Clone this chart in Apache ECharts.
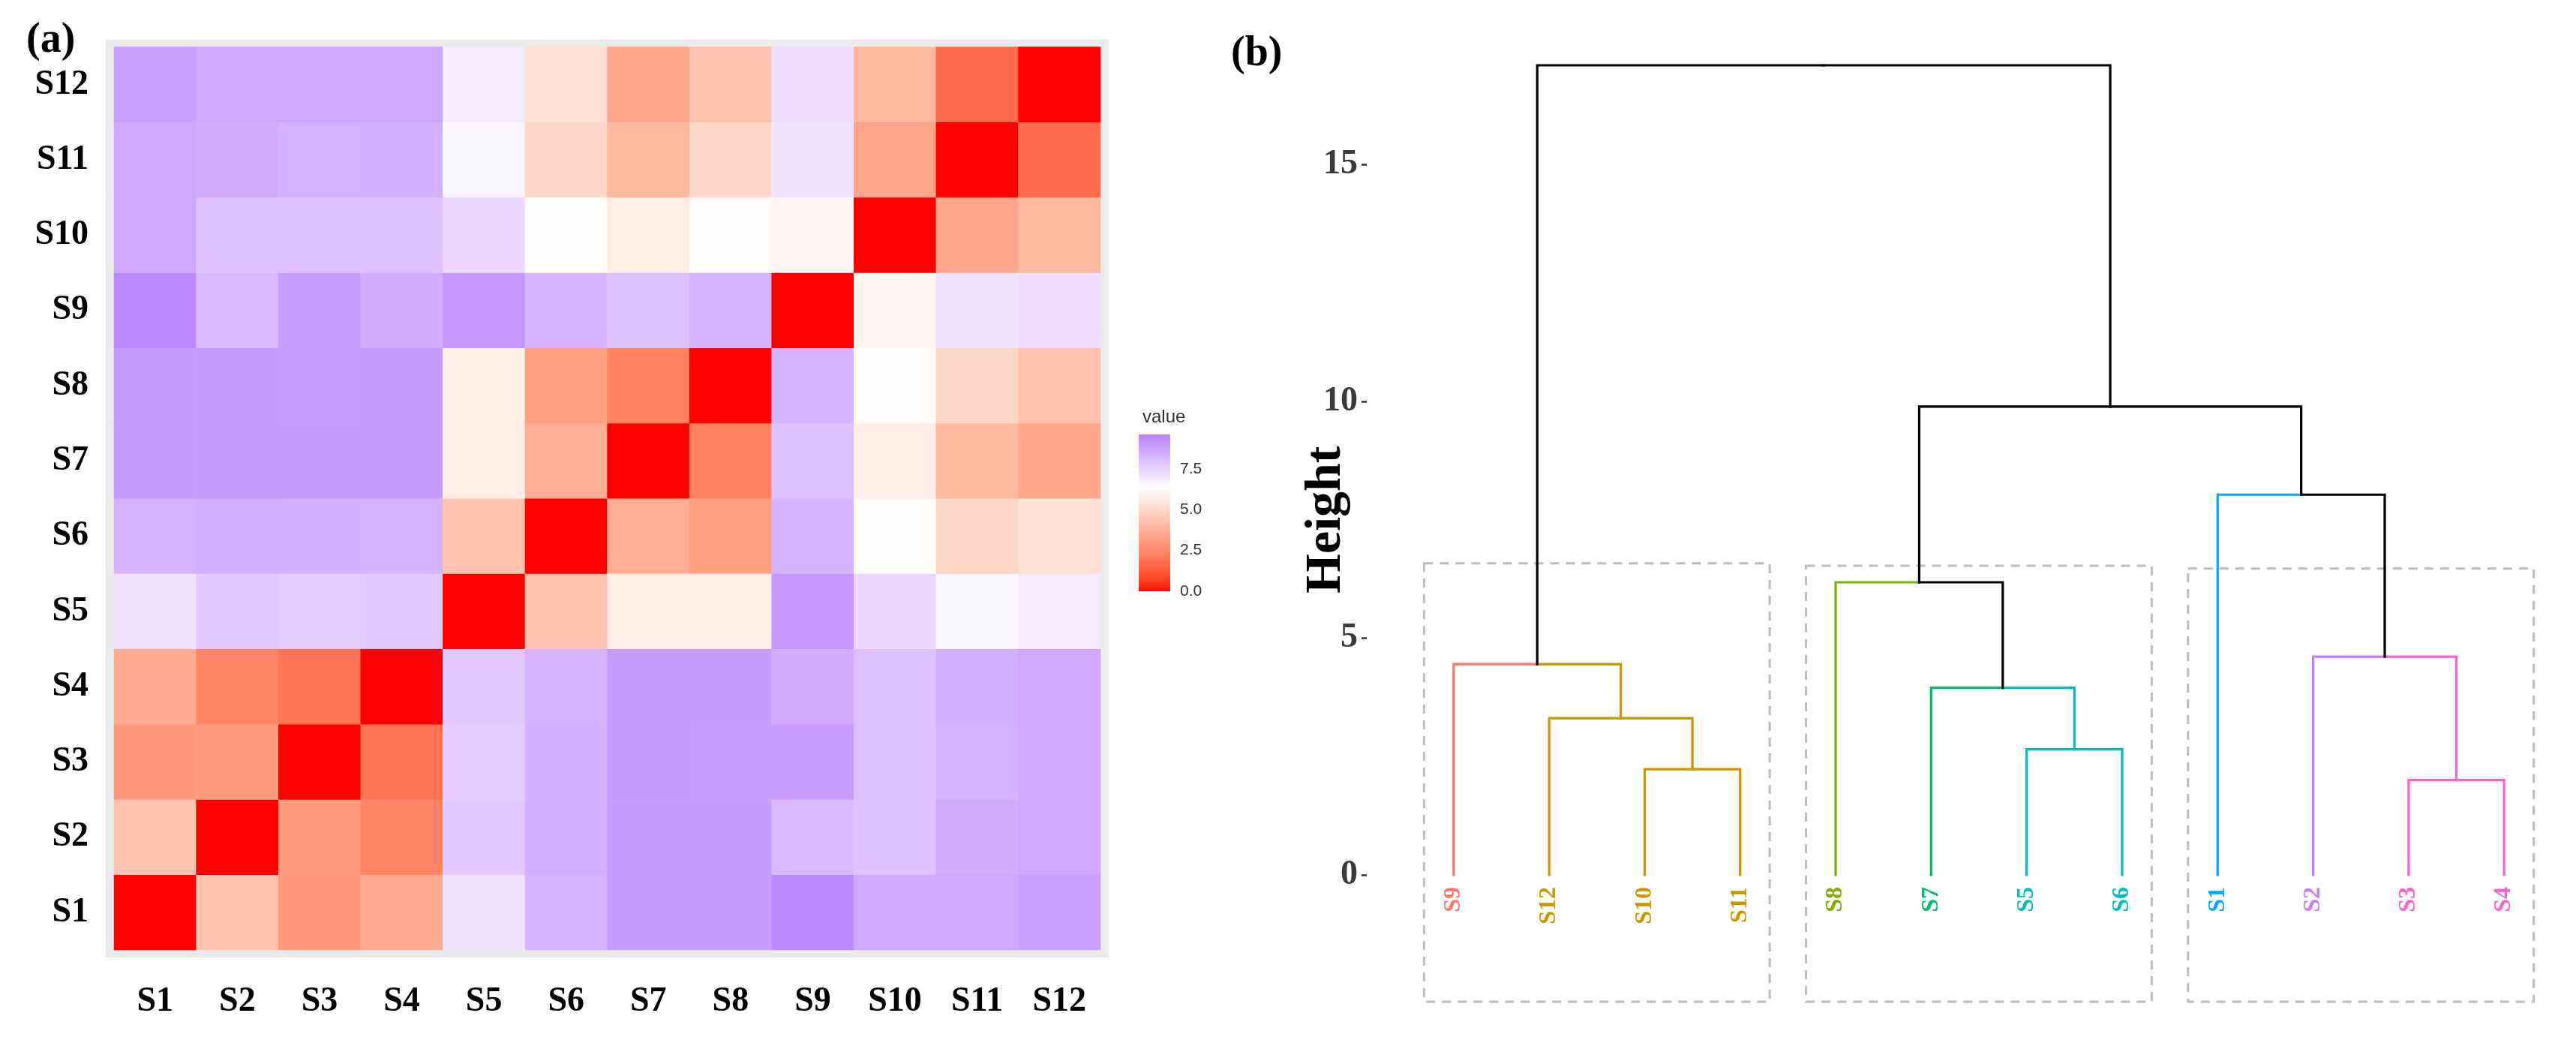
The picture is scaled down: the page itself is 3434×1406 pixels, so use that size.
<!DOCTYPE html>
<html><head><meta charset="utf-8">
<script src="https://cdn.jsdelivr.net/npm/echarts@6/dist/echarts.min.js"></script>
<style>html,body{margin:0;padding:0;background:#fff;}#c{width:3434px;height:1406px;}</style>
</head><body><div id="c"></div>
<script>
// ---------- data ----------
const samples = ['S1','S2','S3','S4','S5','S6','S7','S8','S9','S10','S11','S12'];
const rowS1  = [0, 4.35, 3.0, 3.6, 7.05, 8.35, 8.95, 8.95, 9.45, 8.6, 8.65, 8.85];
const rowS2  = [4.35, 0, 3.1, 2.4, 7.75, 8.45, 8.95, 8.95, 8.15, 7.95, 8.5, 8.65];
const rowS3  = [3.0, 3.1, 0, 1.9, 7.65, 8.4, 8.95, 8.9, 8.9, 8.0, 8.35, 8.65];
const rowS4  = [3.6, 2.4, 1.9, 0, 7.75, 8.35, 8.95, 8.95, 8.5, 7.95, 8.4, 8.62];
const rowS5  = [7.05, 7.75, 7.65, 7.75, 0, 4.3, 5.7, 5.7, 9.1, 7.35, 6.55, 6.85];
const rowS6  = [8.35, 8.45, 8.4, 8.35, 4.3, 0, 3.65, 3.2, 8.3, 6.25, 4.95, 5.25];
const rowS7  = [8.95, 8.95, 8.95, 8.95, 5.7, 3.65, 0, 2.3, 7.95, 5.7, 3.95, 3.4];
const rowS8  = [8.95, 8.95, 8.9, 8.95, 5.7, 3.2, 2.3, 0, 8.35, 6.2, 4.95, 4.3];
const rowS9  = [9.45, 8.15, 8.9, 8.5, 9.1, 8.3, 7.95, 8.35, 0, 6.0, 7.0, 7.2];
const rowS10 = [8.6, 7.95, 8.0, 7.95, 7.35, 6.25, 5.7, 6.2, 6.0, 0, 3.4, 3.95];
const rowS11 = [8.65, 8.5, 8.35, 8.4, 6.55, 4.95, 3.95, 4.95, 7.0, 3.4, 0, 1.7];
const rowS12 = [8.85, 8.65, 8.62, 8.62, 6.85, 5.25, 3.4, 4.3, 7.2, 3.95, 1.7, 0];
const rows = [rowS1,rowS2,rowS3,rowS4,rowS5,rowS6,rowS7,rowS8,rowS9,rowS10,rowS11,rowS12];

const legendTicks = [0, 2.5, 5, 7.5];
const legendMax = 9.6;
const legendMid = 6.3;

const leafOrder = ['S9','S12','S10','S11','S8','S7','S5','S6','S1','S2','S3','S4'];
const mergeLeft   = ['S3','S10','S5','S12','S7','S9','S2','S8','S1','m8','m6'];
const mergeRight  = ['S4','S11','S6','m2','m3','m4','m1','m5','m7','m9','m10'];
const mergeHeight = [2.0, 2.23, 2.65, 3.31, 3.95, 4.45, 4.61, 6.18, 8.03, 9.89, 17.1];
const clusterOf = {S9:0,S12:1,S10:1,S11:1,S8:2,S7:3,S5:4,S6:4,S1:5,S2:6,S3:7,S4:7};
const heightTicks = [0, 5, 10, 15];

const rectFirst = [0, 4, 8];
const rectLast  = [3, 7, 11];
const rectTop   = [6.58, 6.53, 6.47];
const rectBottom = -2.68;

// ---------- styles ----------
const clusterColors = ['#F8766D','#CD9600','#7CAE00','#00BE67','#00BFC4','#00A9FF','#C77CFF','#FF61CC'];
const lowColor = '#FF0000', midColor = '#FFFFFF', highColor = '#B883FF';
const serif = "'Times New Roman','Liberation Serif',serif";
const sans = "'Liberation Sans',Arial,sans-serif";

// ---------- Lab colour gradient (ggplot-like gradient2) ----------
function hex2rgb(h){h=h.replace('#','');return [0,2,4].map(i=>parseInt(h.substr(i,2),16));}
function lin(c){c/=255;return c<=0.04045?c/12.92:Math.pow((c+0.055)/1.055,2.4);}
function delin(c){c=c<=0.0031308?12.92*c:1.055*Math.pow(c,1/2.4)-0.055;return Math.max(0,Math.min(255,Math.round(c*255)));}
function rgb2lab(rgb){const [r,g,b]=rgb.map(lin);
  let X=(0.4124*r+0.3576*g+0.1805*b)/0.95047,Y=(0.2126*r+0.7152*g+0.0722*b),Z=(0.0193*r+0.1192*g+0.9505*b)/1.08883;
  const f=t=>t>0.008856?Math.cbrt(t):7.787*t+16/116;
  const fx=f(X),fy=f(Y),fz=f(Z);return [116*fy-16,500*(fx-fy),200*(fy-fz)];}
function lab2hex(lab){const fy=(lab[0]+16)/116,fx=fy+lab[1]/500,fz=fy-lab[2]/200;
  const fi=t=>t>0.206893?t*t*t:(t-16/116)/7.787;
  const X=fi(fx)*0.95047,Y=fi(fy),Z=fi(fz)*1.08883;
  const r=3.2406*X-1.5372*Y-0.4986*Z,g=-0.9689*X+1.8758*Y+0.0415*Z,b=0.0557*X-0.2040*Y+1.0570*Z;
  return '#'+[r,g,b].map(v=>delin(v).toString(16).padStart(2,'0')).join('');}
const labLow=rgb2lab(hex2rgb(lowColor)),labMid=rgb2lab(hex2rgb(midColor)),labHigh=rgb2lab(hex2rgb(highColor));
function gradColor(v){let a,b,t;
  if(v<=legendMid){a=labLow;b=labMid;t=v/legendMid;}else{a=labMid;b=labHigh;t=(v-legendMid)/(legendMax-legendMid);}
  return lab2hex([0,1,2].map(i=>a[i]+(b[i]-a[i])*t));}
const nStops=96;
const stopColors=[];for(let i=0;i<=nStops;i++)stopColors.push(gradColor(legendMax*i/nStops));
const barStops=stopColors.map((c,i)=>({offset:i/nStops,color:c}));

// ---------- heatmap data ----------
const heatData=[];
rows.forEach((r,yi)=>r.forEach((v,xi)=>heatData.push([xi,yi,v])));

// ---------- dendrogram layout ----------
const nodeX={},nodeH={},nodeC={};
leafOrder.forEach((n,i)=>{nodeX[n]=i;nodeH[n]=0;nodeC[n]=clusterOf[n];});
const segData=[];
mergeHeight.forEach((h,k)=>{
  const id='m'+(k+1),L=mergeLeft[k],R=mergeRight[k];
  nodeX[id]=(nodeX[L]+nodeX[R])/2;nodeH[id]=h;
  nodeC[id]=(nodeC[L]===nodeC[R])?nodeC[L]:-1;
  [L,R].forEach(c=>{
    segData.push({value:[nodeX[c],nodeH[c],nodeX[c],h,nodeX[id],h],
      itemStyle:{color:nodeC[c]<0?'#000000':clusterColors[nodeC[c]]}});
  });
});
const leafData=leafOrder.map((n,i)=>({value:[i,0],itemStyle:{color:clusterColors[clusterOf[n]]}}));
const rectData=rectFirst.map((f,i)=>[f-0.31,rectTop[i],rectLast[i]+0.31,rectBottom]);

// ---------- chart ----------
const chart=echarts.init(document.getElementById('c'),null,{renderer:'canvas'});
chart.setOption({
  backgroundColor:'#ffffff',
  animation:false,
  title:[
    {text:'(a)',left:30,top:22,textStyle:{fontFamily:serif,fontWeight:'bold',fontSize:56,color:'#000'}},
    {text:'(b)',left:1636,top:40,textStyle:{fontFamily:serif,fontWeight:'bold',fontSize:56,color:'#000'}},
    {text:'value',left:1518,top:539,textStyle:{fontFamily:sans,fontWeight:'normal',fontSize:24,color:'#333'}}
  ],
  grid:[
    {left:152,top:62.5,width:1315,height:1203.5,containLabel:false},
    {left:141,top:52.5,width:1337,height:1223.5,show:true,backgroundColor:'#EBEBEB',borderWidth:0},
    {left:1518,top:579,width:42,height:209},
    {left:1822,top:30.2,width:1579.8,height:1325}
  ],
  xAxis:[
    {type:'category',gridIndex:0,data:samples,axisLine:{show:false},axisTick:{show:false},splitLine:{show:false},
      axisLabel:{margin:46,fontFamily:serif,fontWeight:'bold',fontSize:46,color:'#000'}},
    {type:'value',gridIndex:1,show:false},
    {type:'category',gridIndex:2,data:['bar'],show:false},
    {type:'value',gridIndex:3,min:-0.91,max:11.5,show:false,axisLine:{onZero:false}}
  ],
  yAxis:[
    {type:'category',gridIndex:0,data:samples,axisLine:{show:false},axisTick:{show:false},splitLine:{show:false},
      axisLabel:{margin:34,fontFamily:serif,fontWeight:'bold',fontSize:46,color:'#000'}},
    {type:'value',gridIndex:1,show:false},
    {type:'value',gridIndex:2,position:'right',min:0,max:legendMax,axisLine:{show:false},splitLine:{show:false},
      axisTick:{show:true,inside:true,length:8,customValues:legendTicks,lineStyle:{color:'#ffffff',width:1.5}},
      axisLabel:{customValues:legendTicks,margin:13,formatter:v=>v.toFixed(1),fontFamily:sans,fontSize:21,color:'#333'}},
    {type:'value',gridIndex:2,position:'left',min:0,max:legendMax,axisLine:{show:false},splitLine:{show:false},
      axisTick:{show:true,inside:true,length:8,customValues:legendTicks,lineStyle:{color:'#ffffff',width:1.5}},
      axisLabel:{show:false}},
    {type:'value',gridIndex:3,min:-3,max:18,position:'left',axisLine:{show:false,onZero:false},splitLine:{show:false},
      axisTick:{show:true,length:7,customValues:heightTicks,lineStyle:{color:'#333',width:2.5}},
      axisLabel:{customValues:heightTicks,margin:12,fontFamily:serif,fontWeight:'bold',fontSize:46,color:'#3a3a3a'},
      name:'Height',nameLocation:'middle',nameRotate:90,nameGap:20,nameMoveOverlap:false,
      nameTextStyle:{fontFamily:serif,fontWeight:'bold',fontSize:68,color:'#000'}}
  ],
  visualMap:{type:'continuous',show:false,seriesIndex:0,dimension:2,min:0,max:legendMax,inRange:{color:stopColors}},
  series:[
    {type:'heatmap',xAxisIndex:0,yAxisIndex:0,data:heatData,itemStyle:{borderWidth:0},emphasis:{disabled:true},silent:true},
    {type:'bar',xAxisIndex:2,yAxisIndex:2,data:[legendMax],barWidth:'100%',silent:true,
      itemStyle:{color:{type:'linear',x:0,y:1,x2:0,y2:0,colorStops:barStops}}},
    {type:'custom',xAxisIndex:3,yAxisIndex:4,data:rectData,silent:true,encode:{x:[0,2],y:[1,3]},
      renderItem:(params,api)=>{
        const p0=api.coord([api.value(0),api.value(1)]),p1=api.coord([api.value(2),api.value(3)]);
        return {type:'rect',shape:{x:Math.min(p0[0],p1[0]),y:Math.min(p0[1],p1[1]),width:Math.abs(p1[0]-p0[0]),height:Math.abs(p1[1]-p0[1])},
          style:{fill:null,stroke:'#BDBDBD',lineWidth:3,lineDash:[12,9]}};
      }},
    {type:'custom',xAxisIndex:3,yAxisIndex:4,data:segData,silent:true,encode:{x:[0,2,4],y:[1,3,5]},
      renderItem:(params,api)=>{
        const p0=api.coord([api.value(0),api.value(1)]),p1=api.coord([api.value(2),api.value(3)]),p2=api.coord([api.value(4),api.value(5)]);
        return {type:'polyline',shape:{points:[p0,p1,p2]},style:{fill:null,stroke:api.visual('color'),lineWidth:3.2,lineJoin:'miter',lineCap:'square'}};
      }},
    {type:'custom',xAxisIndex:3,yAxisIndex:4,data:leafData,silent:true,encode:{x:0,y:1},
      renderItem:(params,api)=>{
        const p=api.coord([api.value(0),api.value(1)]);
        return {type:'text',x:p[0],y:p[1]+16,rotation:Math.PI/2,
          style:{text:leafOrder[params.dataIndex],fill:api.visual('color'),fontFamily:serif,fontWeight:'bold',fontSize:32,align:'right',verticalAlign:'middle'}};
      }}
  ]
});
</script></body></html>
